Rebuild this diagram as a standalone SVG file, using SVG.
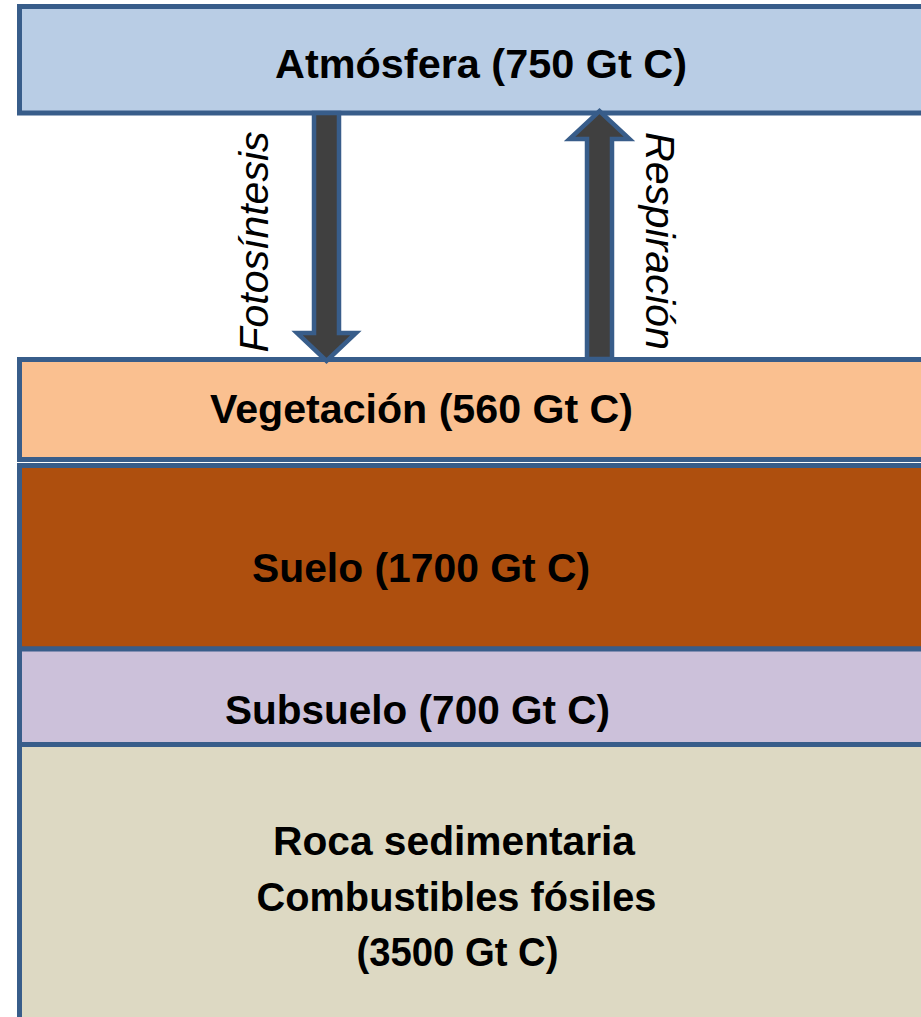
<svg xmlns="http://www.w3.org/2000/svg" width="921" height="1017" viewBox="0 0 921 1017">
  <style>
    .layer { stroke: #385D8A; stroke-width: 5; }
    .flow { fill: #404040; stroke: #385D8A; stroke-width: 4.5; stroke-linejoin: miter; }
    .lbl { font-family: "Liberation Sans", Arial, sans-serif; font-weight: bold; font-size: 41px; fill: #000; text-anchor: middle; }
    .flbl { font-family: "Liberation Sans", Arial, sans-serif; font-style: italic; font-size: 40px; fill: #000; text-anchor: middle; }
  </style>
  <rect width="921" height="1017" fill="#FFFFFF"/>

  <!-- Atmosphere reservoir -->
  <g id="atmosfera">
    <rect class="layer" x="19.5" y="6.5" width="920" height="106.5" fill="#B9CDE5"/>
    <text class="lbl" x="481" y="78" textLength="412" lengthAdjust="spacingAndGlyphs">Atmósfera (750 Gt C)</text>
  </g>

  <!-- Ground layers, top to bottom -->
  <g id="vegetacion">
    <rect class="layer" x="19.5" y="359.5" width="920" height="100" fill="#FAC090"/>
    <text class="lbl" x="421.5" y="423" textLength="423" lengthAdjust="spacingAndGlyphs">Vegetación (560 Gt C)</text>
  </g>

  <g id="suelo">
    <rect class="layer" x="19.5" y="465.5" width="920" height="183.5" fill="#AE4F0E"/>
    <text class="lbl" x="421" y="582" textLength="338" lengthAdjust="spacingAndGlyphs">Suelo (1700 Gt C)</text>
  </g>

  <g id="subsuelo">
    <rect class="layer" x="19.5" y="649" width="920" height="95.5" fill="#CCC1DA"/>
    <text class="lbl" x="417.5" y="724" textLength="385" lengthAdjust="spacingAndGlyphs">Subsuelo (700 Gt C)</text>
  </g>

  <g id="roca">
    <rect class="layer" x="19.5" y="744.5" width="920" height="300" fill="#DDD9C3"/>
    <text class="lbl" x="454" y="855" textLength="362" lengthAdjust="spacingAndGlyphs">Roca sedimentaria</text>
    <text class="lbl" x="456.5" y="911" textLength="400" lengthAdjust="spacingAndGlyphs">Combustibles fósiles</text>
    <text class="lbl" x="457.5" y="966" textLength="202" lengthAdjust="spacingAndGlyphs">(3500 Gt C)</text>
  </g>

  <!-- Carbon fluxes between atmosphere and vegetation -->
  <g id="connectors">
    <g id="fotosintesis">
      <path class="flow" d="M314,113 L339,113 L339,333 L356,333 L326.5,361 L297,333 L314,333 Z"/>
      <text class="flbl" transform="translate(268,242) rotate(-90)" textLength="221" lengthAdjust="spacingAndGlyphs">Fotosíntesis</text>
    </g>
    <g id="respiracion">
      <path class="flow" d="M587,359 L612,359 L612,139 L629.5,139 L599.5,111 L569.5,139 L587,139 Z"/>
      <text class="flbl" transform="translate(646,241) rotate(90)" textLength="218" lengthAdjust="spacingAndGlyphs">Respiración</text>
    </g>
  </g>
</svg>
